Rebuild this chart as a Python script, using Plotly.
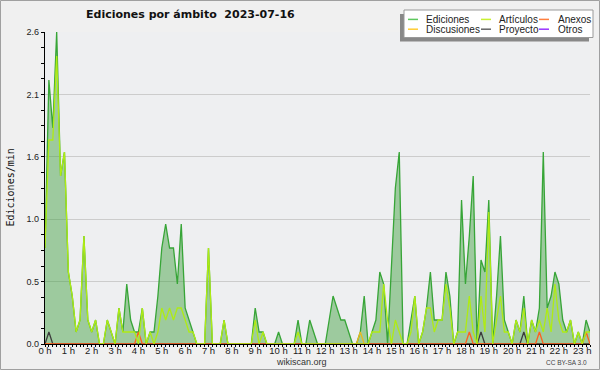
import pandas as pd
import plotly.graph_objects as go

# ---- data (edits per minute, 10-minute slots, 2023-07-16 00:00 .. 23:20) ----
slot_start = "2023-07-16 00:00"
slot_count = 141

ediciones = [
    0.8, 2.2, 1.8, 2.6, 1.4, 1.6, 0.6, 0.4, 0.1, 0.2,
    0.9, 0.2, 0.1, 0.2, 0.0, 0.0, 0.2, 0.1, 0.0, 0.3,
    0.1, 0.5, 0.2, 0.1, 0.1, 0.3, 0.0, 0.1, 0.1, 0.4,
    0.8, 1.0, 0.8, 0.8, 0.5, 1.0, 0.3, 0.2, 0.1, 0.0,
    0.0, 0.0, 0.8, 0.0, 0.0, 0.0, 0.2, 0.0, 0.0, 0.0,
    0.0, 0.0, 0.0, 0.0, 0.3, 0.1, 0.1, 0.0, 0.0, 0.0,
    0.1, 0.0, 0.0, 0.0, 0.0, 0.2, 0.0, 0.0, 0.2, 0.1,
    0.0, 0.0, 0.0, 0.2, 0.4, 0.3, 0.2, 0.2, 0.1, 0.0,
    0.0, 0.1, 0.4, 0.0, 0.1, 0.2, 0.6, 0.5, 0.0, 0.7,
    1.3, 1.6, 0.0, 0.0, 0.2, 0.4, 0.0, 0.1, 0.3, 0.6,
    0.2, 0.2, 0.2, 0.6, 0.4, 0.0, 0.1, 1.2, 0.5, 0.9,
    1.4, 0.0, 0.7, 0.6, 1.2, 0.0, 0.4, 0.9, 0.2, 0.1,
    0.0, 0.2, 0.1, 0.4, 0.0, 0.2, 0.1, 0.3, 1.6, 0.3,
    0.4, 0.6, 0.5, 0.2, 0.1, 0.2, 0.0, 0.1, 0.0, 0.2,
    0.1,
]
articulos = [
    0.8, 1.7, 1.7, 2.4, 1.4, 1.6, 0.6, 0.4, 0.1, 0.2,
    0.9, 0.2, 0.1, 0.2, 0.0, 0.0, 0.2, 0.1, 0.0, 0.3,
    0.1, 0.1, 0.1, 0.1, 0.0, 0.3, 0.0, 0.1, 0.0, 0.1,
    0.3, 0.2, 0.3, 0.2, 0.3, 0.3, 0.2, 0.1, 0.1, 0.0,
    0.0, 0.0, 0.8, 0.0, 0.0, 0.0, 0.2, 0.0, 0.0, 0.0,
    0.0, 0.0, 0.0, 0.0, 0.2, 0.0, 0.1, 0.0, 0.0, 0.0,
    0.0, 0.0, 0.0, 0.0, 0.0, 0.1, 0.0, 0.0, 0.0, 0.0,
    0.0, 0.0, 0.0, 0.0, 0.0, 0.0, 0.0, 0.0, 0.0, 0.0,
    0.0, 0.0, 0.0, 0.0, 0.1, 0.1, 0.1, 0.5, 0.2, 0.0,
    0.2, 0.1, 0.0, 0.0, 0.1, 0.4, 0.0, 0.1, 0.3, 0.3,
    0.1, 0.2, 0.2, 0.5, 0.3, 0.0, 0.1, 0.1, 0.1, 0.4,
    0.1, 0.0, 0.4, 0.1, 1.1, 0.0, 0.2, 0.4, 0.1, 0.1,
    0.0, 0.2, 0.1, 0.3, 0.0, 0.2, 0.1, 0.2, 0.1, 0.3,
    0.1, 0.5, 0.2, 0.1, 0.1, 0.2, 0.0, 0.1, 0.0, 0.1,
    0.1,
]
anexos = [0.0] * 141
for k in (24, 109, 127, 139):
    anexos[k] = 0.1
discusiones = [0.0] * 141
discusiones[81] = 0.1
proyecto = [0.0] * 141
for k in (1, 112, 123):
    proyecto[k] = 0.1
otros = [0.0] * 141

hour_labels = [f"{h} h" for h in range(24)]
y_tick_values = [0.0, 0.52, 1.04, 1.56, 2.08, 2.6]
y_tick_labels = ["0.0", "0.5", "1.0", "1.6", "2.1", "2.6"]

title_text = "Ediciones por ámbito  2023-07-16"
legend_rows = [
    [("Ediciones", "#5fc85f"), ("Artículos", "#c8f032"), ("Anexos", "#ff7f3f")],
    [("Discusiones", "#ffcc33"), ("Proyecto", "#666666"), ("Otros", "#9933ff")],
]

# ---- figure ----
times = pd.date_range(slot_start, periods=slot_count, freq="10min")
hour_ticks = pd.date_range(slot_start, periods=24, freq="1h")

fig = go.Figure()
fig.add_trace(go.Scatter(x=times, y=ediciones, name="Ediciones", mode="lines",
                         line=dict(color="rgb(55,165,55)", width=1.3),
                         fill="tozeroy", fillcolor="rgba(60,160,60,0.46)"))
fig.add_trace(go.Scatter(x=times, y=otros, name="Otros", mode="lines",
                         line=dict(color="#9933ff", width=1.3)))
fig.add_trace(go.Scatter(x=times, y=discusiones, name="Discusiones", mode="lines",
                         line=dict(color="rgb(235,185,30)", width=1.3)))
fig.add_trace(go.Scatter(x=times, y=proyecto, name="Proyecto", mode="lines",
                         line=dict(color="rgb(60,60,60)", width=1.3)))
fig.add_trace(go.Scatter(x=times, y=anexos, name="Anexos", mode="lines",
                         line=dict(color="rgb(255,95,30)", width=1.3)))
fig.add_trace(go.Scatter(x=times, y=articulos, name="Artículos", mode="lines",
                         line=dict(color="rgb(175,235,20)", width=1.3)))

L, R, T, B = 45, 10, 32, 26
W, H = 600, 370
pw, ph = W - L - R, H - T - B


def px(xp):
    return (xp - L) / pw


def py(yp):
    return (H - B - yp) / ph


shapes = []
annotations = []
# outer frame
shapes.append(dict(type="rect", xref="paper", yref="paper",
                   x0=px(0.5), x1=px(599.5), y0=py(369.5), y1=py(0.5),
                   line=dict(color="#a0a0a0", width=1), fillcolor="rgba(0,0,0,0)", layer="below"))
# legend box with shadow
shapes.append(dict(type="rect", xref="paper", yref="paper",
                   x0=px(400), x1=px(589), y0=py(41.5), y1=py(14),
                   line=dict(width=0), fillcolor="#888888", layer="above"))
shapes.append(dict(type="rect", xref="paper", yref="paper",
                   x0=px(404), x1=px(593), y0=py(37.5), y1=py(10),
                   line=dict(color="#999999", width=1), fillcolor="white", layer="above"))
col_line_x = [408, 481, 539]
col_text_x = [424, 497, 556]
row_y = [19.4, 29.2]
for r, row in enumerate(legend_rows):
    for c, (name, color) in enumerate(row):
        shapes.append(dict(type="line", xref="paper", yref="paper",
                           x0=px(col_line_x[c]), x1=px(col_line_x[c] + 10),
                           y0=py(row_y[r]), y1=py(row_y[r]),
                           line=dict(color=color, width=1.5), layer="above"))
        annotations.append(dict(text=name, xref="paper", yref="paper",
                                x=px(col_text_x[c]), y=py(row_y[r]),
                                xanchor="left", yanchor="middle", showarrow=False,
                                font=dict(family="Liberation Sans", size=10, color="#222")))

annotations.append(dict(text=title_text, xref="paper", yref="paper",
                        x=px(84), y=py(15), xanchor="left", yanchor="middle", showarrow=False,
                        font=dict(family="DejaVu Sans", size=11, color="#111", weight="bold")))
annotations.append(dict(text="Ediciones/min", xref="paper", yref="paper",
                        x=px(9.5), y=0.5, xanchor="center", yanchor="middle", textangle=-90,
                        showarrow=False,
                        font=dict(family="DejaVu Sans Mono", size=10, color="#111")))
annotations.append(dict(text="wikiscan.org", xref="paper", yref="paper",
                        x=px(301), y=py(361.5), xanchor="center", yanchor="middle", showarrow=False,
                        font=dict(family="Liberation Sans", size=9, color="#333")))
annotations.append(dict(text="CC BY-SA 3.0", xref="paper", yref="paper",
                        x=px(589), y=py(362), xanchor="right", yanchor="middle", showarrow=False,
                        font=dict(family="Liberation Sans", size=6.5, color="#444")))

fig.update_layout(
    width=W, height=H,
    margin=dict(l=L, r=R, t=T, b=B, pad=0),
    paper_bgcolor="#f0f0f0",
    plot_bgcolor="#eeeff1",
    showlegend=False,
    shapes=shapes,
    annotations=annotations,
    font=dict(family="Liberation Sans", size=9, color="#222"),
)
fig.update_xaxes(
    range=[times[0], times[-1]],
    tickvals=hour_ticks, ticktext=hour_labels,
    tickfont=dict(family="Liberation Sans", size=9.5, color="#222"),
    ticks="outside", ticklen=2, tickcolor="black", tickwidth=1,
    ticklabelstandoff=-5,
    minor=dict(dtick=600000, ticks="outside", ticklen=2, tickcolor="black", tickwidth=1),
    showline=True, linecolor="black", linewidth=1.2,
    showgrid=False, zeroline=False,
)
fig.update_yaxes(
    range=[0, 2.6],
    tickvals=y_tick_values, ticktext=y_tick_labels,
    tickfont=dict(family="Liberation Sans", size=9, color="#222"),
    ticks="outside", ticklen=3, tickcolor="black",
    minor=dict(tickvals=[0.13 * k for k in range(21)], ticks="outside", ticklen=3,
               tickcolor="black", showgrid=False),
    showline=True, linecolor="black", linewidth=1.2,
    showgrid=True, gridcolor="#cccccc", gridwidth=1,
    zeroline=False,
)

fig.write_html("out.html", config={"displayModeBar": False},
               post_script="document.body.style.margin='0';")
